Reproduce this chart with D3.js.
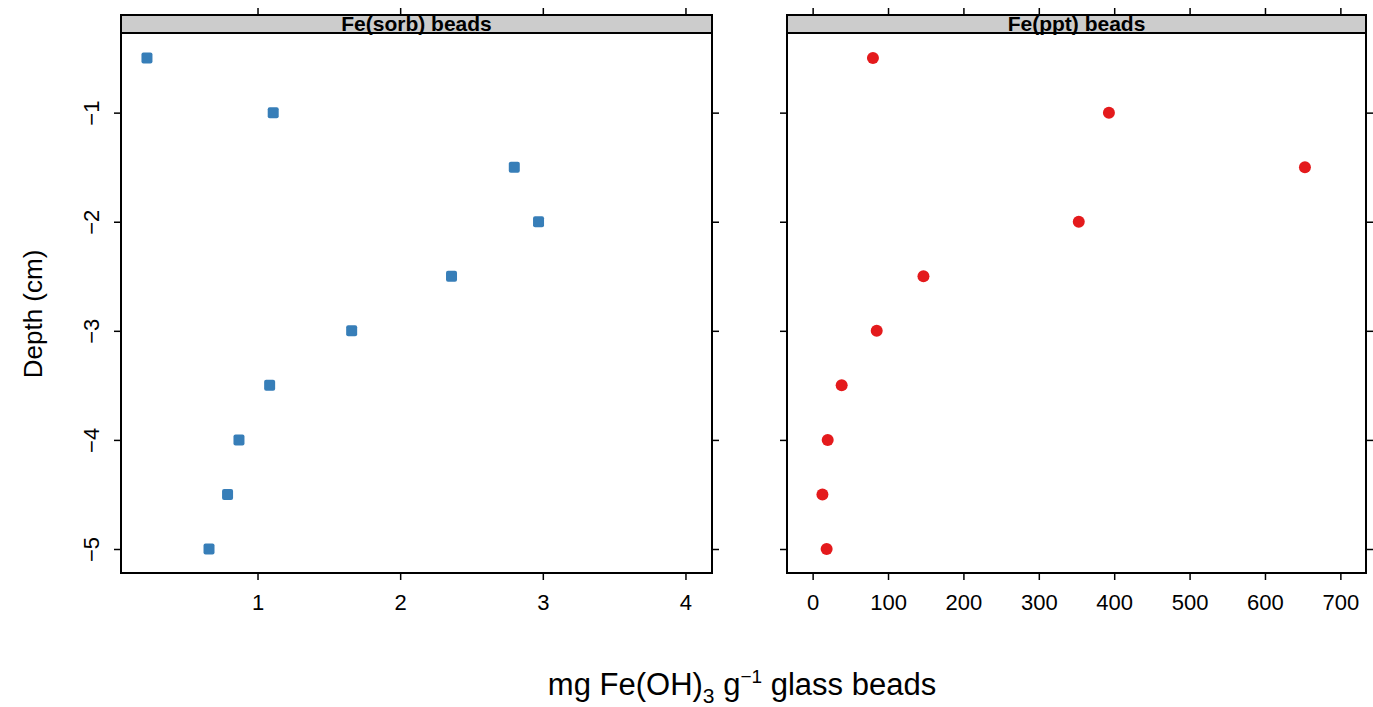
<!DOCTYPE html>
<html>
<head>
<meta charset="utf-8">
<script src="https://cdn.jsdelivr.net/npm/d3@7"></script>
<style>
  body { margin: 0; background: #fff; }
  text { font-family: "Liberation Sans", Arial, Helvetica, sans-serif; fill: #000; }
</style>
</head>
<body>
<script>
// data
var depths = [-0.5, -1, -1.5, -2, -2.5, -3, -3.5, -4, -4.5, -5];
var sorbValues = [0.225, 1.11, 2.80, 2.97, 2.36, 1.66, 1.085, 0.87, 0.79, 0.66];
var pptValues = [80, 393, 653, 353, 147, 85, 38.5, 20, 13, 18.6];
var panelTitles = ["Fe(sorb) beads", "Fe(ppt) beads"];
var sorbTicks = [1, 2, 3, 4];
var pptTicks = [0, 100, 200, 300, 400, 500, 600, 700];
var depthTicks = [-1, -2, -3, -4, -5];

var width = 1373, height = 707;
var svg = d3.select("body").append("svg")
  .attr("width", width)
  .attr("height", height)

// layout
var stripTop = 15, plotTop = 33, plotBottom = 573;
var tickLen = 7;
var tickFont = "22px";
var panels = [
  { x0: 121, x1: 712, domain: [0.043, 4.186], ticks: sorbTicks, values: sorbValues,
    color: "#377EB8", shape: "square", title: panelTitles[0], leftLabels: true },
  { x0: 787, x1: 1366, domain: [-34, 734], ticks: pptTicks, values: pptValues,
    color: "#E41A1C", shape: "circle", title: panelTitles[1], leftLabels: false }
];

var y = d3.scaleLinear().domain([-5.22, -0.27]).range([plotBottom, plotTop]);

panels.forEach(function (p) {
  var x = d3.scaleLinear().domain(p.domain).range([p.x0, p.x1]);
  var g = svg.append("g");

  // bottom axis with labels
  var bottom = g.append("g")
    .attr("transform", "translate(0," + plotBottom + ")")
    .call(d3.axisBottom(x).tickValues(p.ticks).tickSize(tickLen).tickPadding(14).tickFormat(d3.format("d")));
  bottom.select(".domain").remove();
  bottom.attr("font-family", null).attr("font-size", null);
  bottom.selectAll("line").attr("stroke", "#000").attr("stroke-width", 1.5);
  bottom.selectAll("text").style("font-size", tickFont);

  // top axis, ticks only
  var top = g.append("g")
    .attr("transform", "translate(0," + stripTop + ")")
    .call(d3.axisTop(x).tickValues(p.ticks).tickSize(tickLen).tickFormat(""));
  top.select(".domain").remove();
  top.selectAll("line").attr("stroke", "#000").attr("stroke-width", 1.5);

  // left axis, labels rotated like lattice
  var left = g.append("g")
    .attr("transform", "translate(" + p.x0 + ",0)")
    .call(d3.axisLeft(y).tickValues(depthTicks).tickSize(tickLen)
      .tickFormat(p.leftLabels ? function (d) { return "\u2212" + Math.abs(d); } : ""));
  left.select(".domain").remove();
  left.attr("font-family", null).attr("font-size", null);
  left.selectAll("line").attr("stroke", "#000").attr("stroke-width", 1.5);
  left.selectAll("text")
    .attr("x", null).attr("dy", null).attr("y", 0)
    .attr("text-anchor", "middle")
    .attr("transform", "translate(-30,0) rotate(-90) translate(0,8)")
    .style("font-size", tickFont);

  // right axis, ticks only
  var right = g.append("g")
    .attr("transform", "translate(" + p.x1 + ",0)")
    .call(d3.axisRight(y).tickValues(depthTicks).tickSize(tickLen).tickFormat(""));
  right.select(".domain").remove();
  right.selectAll("line").attr("stroke", "#000").attr("stroke-width", 1.5);

  // strip
  g.append("rect")
    .attr("x", p.x0).attr("y", stripTop)
    .attr("width", p.x1 - p.x0).attr("height", plotTop - stripTop)
    .attr("fill", "#cccccc").attr("stroke", "#000").attr("stroke-width", 2);
  g.append("text")
    .attr("x", (p.x0 + p.x1) / 2).attr("y", plotTop - 2)
    .attr("text-anchor", "middle")
    .style("font-size", "21px").style("font-weight", "bold")
    .text(p.title);

  // panel box
  g.append("rect")
    .attr("x", p.x0).attr("y", plotTop)
    .attr("width", p.x1 - p.x0).attr("height", plotBottom - plotTop)
    .attr("fill", "none").attr("stroke", "#000").attr("stroke-width", 2);

  // points
  var pts = p.values.map(function (v, i) { return { x: v, y: depths[i] }; });
  if (p.shape === "square") {
    g.selectAll(".pt").data(pts).enter().append("rect")
      .attr("x", function (d) { return x(d.x) - 5.5; })
      .attr("y", function (d) { return y(d.y) - 5.5; })
      .attr("width", 11).attr("height", 11)
      .attr("rx", 2).attr("ry", 2)
      .attr("fill", p.color);
  } else {
    g.selectAll(".pt").data(pts).enter().append("circle")
      .attr("cx", function (d) { return x(d.x); })
      .attr("cy", function (d) { return y(d.y); })
      .attr("r", 6)
      .attr("fill", p.color);
  }
});

// axis titles
svg.append("text")
  .attr("transform", "translate(42,314) rotate(-90)")
  .attr("text-anchor", "middle")
  .style("font-size", "26px")
  .text("Depth (cm)");

var xt = svg.append("text")
  .attr("x", 742).attr("y", 695)
  .attr("text-anchor", "middle")
  .style("font-size", "31px");
xt.append("tspan").text("mg Fe(OH)");
xt.append("tspan").attr("dy", 8).style("font-size", "21px").text("3");
xt.append("tspan").attr("dy", -8).text(" g");
xt.append("tspan").attr("dy", -12).style("font-size", "19px").text("\u22121");
xt.append("tspan").attr("dy", 12).text(" glass beads");
</script>
</body>
</html>
